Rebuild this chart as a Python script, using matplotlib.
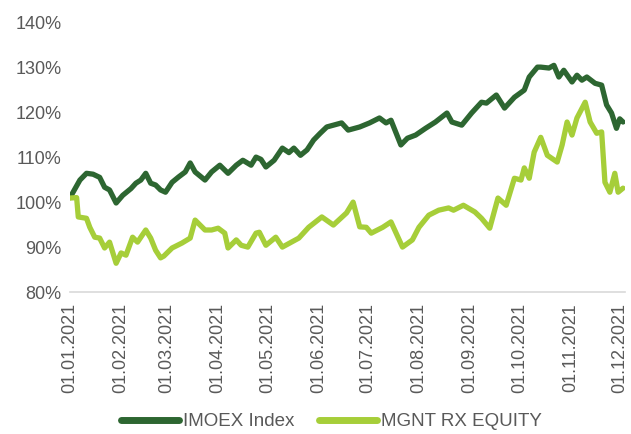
import matplotlib
matplotlib.use("Agg")
import matplotlib.pyplot as plt
import matplotlib.dates as mdates
import pandas as pd

plt.rcParams["font.family"] = ["Liberation Sans", "DejaVu Sans"]

start = pd.Timestamp("2021-01-01")

# days after 01.01.2021 and index level in %
imoex_day = [0, 6, 10, 14, 18, 21, 24, 28, 32, 37, 40, 43, 46, 49, 52, 55, 58, 62, 66, 70,
             73, 76, 82, 86, 91, 96, 101, 105, 110, 113, 116, 119, 124, 129, 133, 136, 140,
             144, 148, 152, 156, 160, 165, 169, 176, 182, 188, 192, 195, 201, 205, 210, 216,
             222, 229, 232, 238, 244, 250, 253, 259, 264, 270, 276, 279, 284, 286, 291, 294,
             297, 300, 305, 308, 311, 314, 319, 323, 326, 329, 332, 334, 336]
imoex_val = [101.0, 104.9, 106.4, 106.2, 105.5, 103.3, 102.7, 99.8, 101.5, 103.0, 104.2, 104.9,
             106.4, 104.2, 103.8, 102.7, 102.2, 104.4, 105.6, 106.7, 108.7, 106.7, 104.9, 106.7,
             108.2, 106.4, 108.2, 109.3, 108.2, 110.0, 109.5, 107.8, 109.3, 112.0, 111.0, 112.0,
             110.4, 111.6, 113.8, 115.3, 116.7, 117.1, 117.6, 116.0, 116.7, 117.6, 118.7, 117.6,
             118.2, 112.7, 114.2, 114.9, 116.4, 117.8, 119.8, 117.8, 117.1, 119.8, 122.2, 122.0,
             123.8, 120.9, 123.3, 124.9, 127.8, 130.0, 130.0, 129.8, 130.4, 127.8, 129.3, 126.7,
             128.2, 127.1, 127.8, 126.4, 126.0, 121.6, 119.8, 116.4, 118.5, 117.8]

mgnt_day = [0, 4, 5, 10, 12, 15, 18, 21, 24, 28, 31, 34, 38, 41, 46, 49, 52, 55, 57, 62, 68,
            73, 76, 79, 82, 86, 90, 94, 96, 101, 104, 108, 113, 115, 119, 125, 129, 139, 145,
            153, 160, 168, 172, 176, 180, 183, 190, 195, 202, 208, 212, 218, 224, 230, 233,
            239, 246, 250, 255, 260, 265, 270, 274, 276, 279, 282, 286, 290, 296, 299, 302,
            305, 308, 313, 316, 320, 323, 325, 328, 331, 333, 336]
mgnt_val = [100.9, 101.0, 96.7, 96.4, 94.4, 92.2, 92.0, 89.8, 91.1, 86.4, 88.7, 88.2, 92.2,
            91.1, 93.8, 92.0, 89.3, 87.6, 88.0, 89.8, 90.9, 92.0, 96.0, 94.9, 93.8, 93.8, 94.2,
            93.1, 89.8, 91.6, 90.4, 90.0, 93.1, 93.3, 90.4, 92.2, 90.0, 92.0, 94.4, 96.7, 94.9,
            97.6, 100.0, 94.5, 94.4, 93.1, 94.4, 95.6, 90.0, 91.6, 94.4, 97.1, 98.2, 98.7, 98.2,
            99.3, 97.8, 96.4, 94.2, 100.9, 99.3, 105.3, 104.9, 107.6, 105.3, 111.1, 114.4, 110.4,
            108.9, 112.7, 117.8, 114.9, 118.7, 122.2, 117.8, 115.3, 115.6, 104.4, 102.2, 106.4,
            102.2, 103.1]

series_names = ["IMOEX Index", "MGNT RX EQUITY"]
y_ticks = [80, 90, 100, 110, 120, 130, 140]

imoex_dates = start + pd.to_timedelta(imoex_day, unit="D")
mgnt_dates = start + pd.to_timedelta(mgnt_day, unit="D")

fig = plt.figure(figsize=(6.31, 4.34), dpi=100)
ax = fig.add_axes([0.111, 0.327, 0.879, 0.622])

ax.plot(imoex_dates, imoex_val, color="#2d6631", lw=3.8, label=series_names[0],
        solid_joinstyle="round", solid_capstyle="round")
ax.plot(mgnt_dates, mgnt_val, color="#a6ce39", lw=3.8, label=series_names[1],
        solid_joinstyle="round", solid_capstyle="round")

ax.set_ylim(80, 140)
ax.set_yticks(y_ticks)
ax.set_yticklabels([f"{v}%" for v in y_ticks])
ax.set_xlim(start, start + pd.Timedelta(days=337))
ax.xaxis.set_major_locator(mdates.MonthLocator())
ax.xaxis.set_major_formatter(mdates.DateFormatter("%d.%m.%Y"))

for s in ["top", "right", "left"]:
    ax.spines[s].set_visible(False)
ax.spines["bottom"].set_color("#d9d9d9")
ax.spines["bottom"].set_linewidth(1.2)
ax.tick_params(axis="both", length=0, labelsize=13, colors="#595959", pad=6)
ax.tick_params(axis="x", labelrotation=90, pad=8)

fig.legend(loc="lower center", bbox_to_anchor=(0.525, -0.03), ncol=2, frameon=False,
           fontsize=13.5, handlelength=3.1, handletextpad=0.2, columnspacing=1.3,
           labelcolor="#595959")
for line in fig.legends[0].get_lines():
    line.set_linewidth(5)

fig.savefig("out.png", dpi=100)
